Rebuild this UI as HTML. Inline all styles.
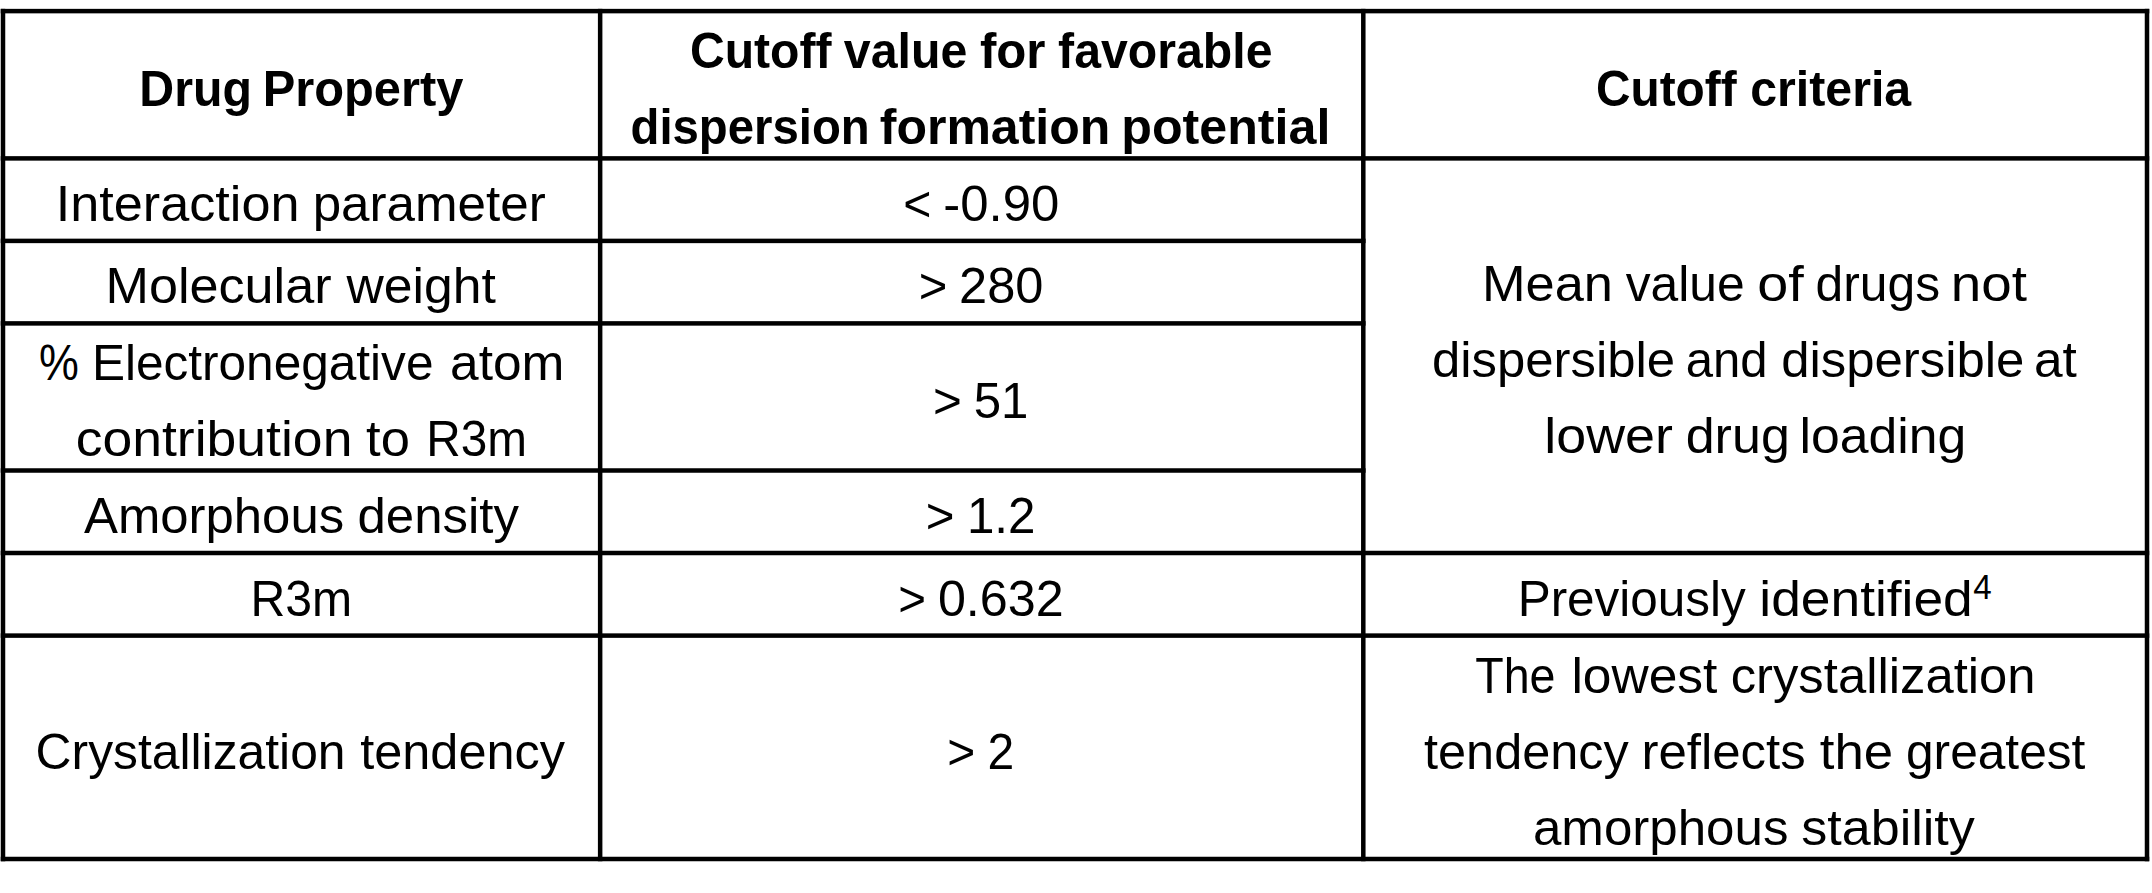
<!DOCTYPE html>
<html lang="en"><head><meta charset="utf-8"><title>Cutoff values for favorable dispersion formation potential</title>
<style>
html,body{margin:0;padding:0;background:#fff;}
body{width:2152px;height:893px;position:relative;overflow:hidden;font-family:"Liberation Sans",sans-serif;color:#000;}
#grid{position:absolute;left:0;top:0;}
.l{position:absolute;left:0;height:50px;width:2152px;font-size:50px;line-height:1;white-space:pre;}
.l span{position:absolute;top:0;left:0;display:block;transform-origin:0 0;white-space:pre;}
.b{font-weight:bold;}
</style></head><body>
<svg id="grid" width="2152" height="893" viewBox="0 0 2152 893">
<rect x="0.75" y="8.85" width="2148.50" height="4.50" fill="#000"/>
<rect x="0.75" y="156.15" width="2148.50" height="4.50" fill="#000"/>
<rect x="0.75" y="238.65" width="1364.80" height="4.50" fill="#000"/>
<rect x="0.75" y="321.15" width="1364.80" height="4.50" fill="#000"/>
<rect x="0.75" y="468.25" width="1364.80" height="4.50" fill="#000"/>
<rect x="0.75" y="550.75" width="2148.50" height="4.50" fill="#000"/>
<rect x="0.75" y="633.35" width="2148.50" height="4.50" fill="#000"/>
<rect x="0.75" y="856.75" width="2148.50" height="4.50" fill="#000"/>
<rect x="0.75" y="8.85" width="4.50" height="852.40" fill="#000"/>
<rect x="597.90" y="8.85" width="4.50" height="852.40" fill="#000"/>
<rect x="1361.05" y="8.85" width="4.50" height="852.40" fill="#000"/>
<rect x="2144.75" y="8.85" width="4.50" height="852.40" fill="#000"/>
</svg>
<div class="l b" style="top:64px"><span style="transform:translateX(139.35px) scaleX(0.9663)">Drug</span> <span style="transform:translateX(262.64px) scaleX(0.9763)">Property</span></div>
<div class="l b" style="top:26px"><span style="transform:translateX(689.93px) scaleX(0.9625)">Cutoff</span> <span style="transform:translateX(843.83px) scaleX(0.9654)">value</span> <span style="transform:translateX(979.92px) scaleX(0.9840)">for</span> <span style="transform:translateX(1058.12px) scaleX(0.9643)">favorable</span></div>
<div class="l b" style="top:102px"><span style="transform:translateX(630.50px) scaleX(0.9461)">dispersion</span> <span style="transform:translateX(879.81px) scaleX(0.9996)">formation</span> <span style="transform:translateX(1121.28px) scaleX(1.0036)">potential</span></div>
<div class="l b" style="top:64px"><span style="transform:translateX(1596.00px) scaleX(0.9557)">Cutoff</span> <span style="transform:translateX(1750.19px) scaleX(0.9656)">criteria</span></div>
<div class="l" style="top:179px"><span style="transform:translateX(55.78px) scaleX(1.0438)">Interaction</span> <span style="transform:translateX(312.69px) scaleX(1.0223)">parameter</span></div>
<div class="l" style="top:179px"><span style="transform:translateX(903.30px) scaleX(0.9632)">&lt;</span> <span style="transform:translateX(943.32px) scaleX(1.0190)">-0.90</span></div>
<div class="l" style="top:261px"><span style="transform:translateX(105.47px) scaleX(1.0428)">Molecular</span> <span style="transform:translateX(346.48px) scaleX(1.0330)">weight</span></div>
<div class="l" style="top:261px"><span style="transform:translateX(918.79px) scaleX(0.9797)">&gt;</span> <span style="transform:translateX(959.01px) scaleX(1.0122)">280</span></div>
<div class="l" style="top:338px"><span style="transform:translateX(39.07px) scaleX(0.8962)">%</span> <span style="transform:translateX(91.92px) scaleX(0.9909)">Electronegative</span> <span style="transform:translateX(450.07px) scaleX(1.0287)">atom</span></div>
<div class="l" style="top:414px"><span style="transform:translateX(75.72px) scaleX(1.0703)">contribution</span> <span style="transform:translateX(366.09px) scaleX(1.0505)">to</span> <span style="transform:translateX(426.20px) scaleX(0.9537)">R3m</span></div>
<div class="l" style="top:376px"><span style="transform:translateX(933.03px) scaleX(0.9877)">&gt;</span> <span style="transform:translateX(973.72px) scaleX(0.9837)">51</span></div>
<div class="l" style="top:491px"><span style="transform:translateX(83.96px) scaleX(1.0175)">Amorphous</span> <span style="transform:translateX(357.56px) scaleX(1.0181)">density</span></div>
<div class="l" style="top:491px"><span style="transform:translateX(925.83px) scaleX(0.9838)">&gt;</span> <span style="transform:translateX(966.91px) scaleX(0.9861)">1.2</span></div>
<div class="l" style="top:259px"><span style="transform:translateX(1482.01px) scaleX(1.0465)">Mean</span> <span style="transform:translateX(1625.67px) scaleX(0.9947)">value</span> <span style="transform:translateX(1757.28px) scaleX(1.1151)">of</span> <span style="transform:translateX(1815.45px) scaleX(0.9963)">drugs</span> <span style="transform:translateX(1950.85px) scaleX(1.0953)">not</span></div>
<div class="l" style="top:335px"><span style="transform:translateX(1432.04px) scaleX(1.0171)">dispersible</span> <span style="transform:translateX(1685.71px) scaleX(0.9817)">and</span> <span style="transform:translateX(1781.20px) scaleX(1.0171)">dispersible</span> <span style="transform:translateX(2033.92px) scaleX(1.0295)">at</span></div>
<div class="l" style="top:411px"><span style="transform:translateX(1544.35px) scaleX(1.0759)">lower</span> <span style="transform:translateX(1685.69px) scaleX(1.0404)">drug</span> <span style="transform:translateX(1799.51px) scaleX(1.0343)">loading</span></div>
<div class="l" style="top:574px"><span style="transform:translateX(250.41px) scaleX(0.9629)">R3m</span></div>
<div class="l" style="top:574px"><span style="transform:translateX(898.27px) scaleX(0.9505)">&gt;</span> <span style="transform:translateX(937.93px) scaleX(1.0049)">0.632</span></div>
<div class="l" style="top:574px"><span style="transform:translateX(1517.66px) scaleX(0.9888)">Previously</span> <span style="transform:translateX(1759.31px) scaleX(1.0665)">identified</span></div>
<div class="l" style="top:727px"><span style="transform:translateX(35.58px) scaleX(0.9961)">Crystallization</span> <span style="transform:translateX(360.25px) scaleX(1.0085)">tendency</span></div>
<div class="l" style="top:727px"><span style="transform:translateX(947.19px) scaleX(0.9594)">&gt;</span> <span style="transform:translateX(987.44px) scaleX(0.9614)">2</span></div>
<div class="l" style="top:651px"><span style="transform:translateX(1475.19px) scaleX(0.9317)">The</span> <span style="transform:translateX(1571.42px) scaleX(1.0300)">lowest</span> <span style="transform:translateX(1730.66px) scaleX(1.0159)">crystallization</span></div>
<div class="l" style="top:727px"><span style="transform:translateX(1424.02px) scaleX(1.0088)">tendency</span> <span style="transform:translateX(1641.47px) scaleX(1.0193)">reflects</span> <span style="transform:translateX(1819.76px) scaleX(1.0549)">the</span> <span style="transform:translateX(1905.99px) scaleX(0.9928)">greatest</span></div>
<div class="l" style="top:803px"><span style="transform:translateX(1532.96px) scaleX(1.0212)">amorphous</span> <span style="transform:translateX(1801.25px) scaleX(1.0411)">stability</span></div>
<div class="l" style="top:569.80px;font-size:34px;height:34px"><span style="transform-origin:0 29.00px;transform:translateX(1973.35px) scale(0.9760,1.0174)">4</span></div>
</body></html>
